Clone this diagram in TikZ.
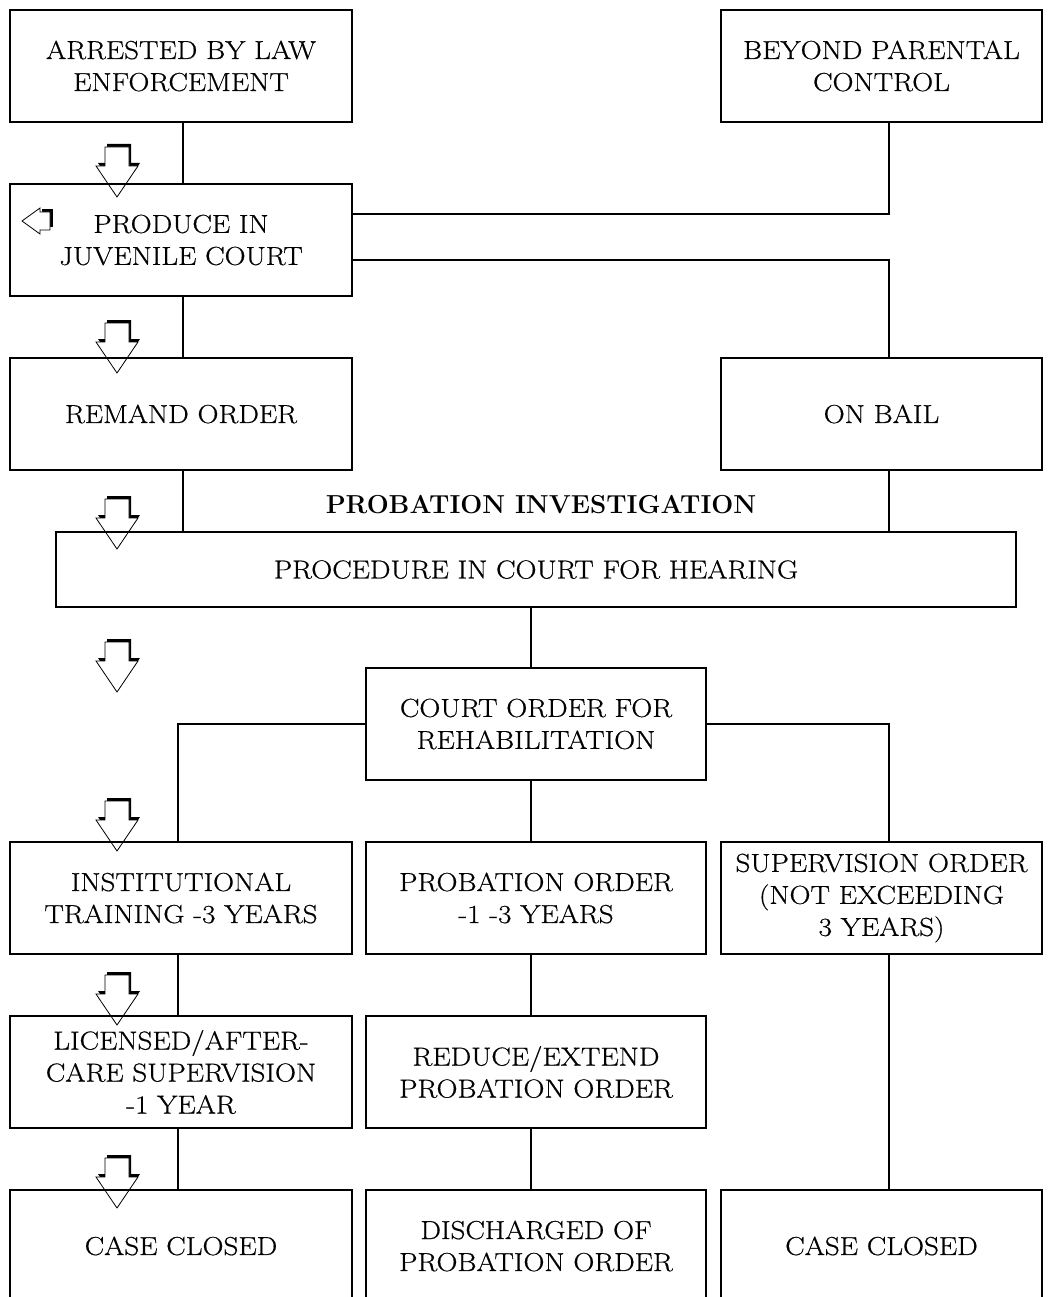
\documentclass[tikz,border=0pt]{standalone}
\usepackage{fontspec}
\setmainfont{Latin Modern Roman}[UprightFeatures={FakeStretch=1.12,FakeBold=0.6}]
\usepackage{tikz}
\usetikzlibrary{positioning}

\tikzset{
  downarr/.pic={
    \fill[black] (-10,53) -- (14,53) -- (14,34) -- (23,34) -- (2,3) -- (-19,34) -- (-10,34) -- cycle;
    \filldraw[fill=white,line width=0.8pt] (-12,50) -- (12,50) -- (12,31) -- (21,31) -- (0,0) -- (-21,31) -- (-12,31) -- cycle;
  },
  leftarr/.pic={
    \fill[black] (20,12) rectangle (31,-6);
    \filldraw[fill=white,line width=0.8pt] (0,0) -- (18,13) -- (18,9) -- (28,9) -- (28,-9) -- (18,-9) -- (18,-13) -- cycle;
  }
}

\begin{document}
\begin{tikzpicture}[x=1pt,y=1pt,node distance=60pt,
  box/.style={draw,line width=2pt,minimum height=112pt,align=center,font=\fontsize{26}{32}\selectfont},
  colL/.style={minimum width=342pt},
  colM/.style={minimum width=340pt},
  colR/.style={minimum width=321pt},
  link/.style={line width=1.3pt}]
\useasboundingbox (0,0) rectangle (1052,-1297);

\foreach \t in {197,373,549,692,851,1025,1208}
  \pic at (117,-\t) {downarr};
\pic at (22,-221) {leftarr};

\node[box,colL] (arrested) at (181,-66) {ARRESTED BY LAW\\ENFORCEMENT};
\node[box,colR] (beyond) at (881.5,-66) {BEYOND PARENTAL\\CONTROL};
\node[box,colL] (produce) [below=of arrested] {PRODUCE IN\\JUVENILE COURT};
\node[box,colL] (remand) [below=of produce] {REMAND ORDER};
\node[box,colR] (bail) at (beyond |- remand) {ON BAIL};
\node[font=\bfseries\fontsize{26}{32}\selectfont] (invest) at (541,-505) {PROBATION INVESTIGATION};
\node[box,minimum width=960pt,minimum height=75pt] (hearing) at (536,-569.5) {PROCEDURE IN COURT FOR HEARING};
\node[box,colM] (court) [below=59pt of hearing] {COURT ORDER FOR\\REHABILITATION};
\node[box,colM] (probation) [below=of court] {PROBATION ORDER\\-1 -3 YEARS};
\node[box,colL] (training) at (arrested |- probation) {INSTITUTIONAL\\TRAINING -3 YEARS};
\node[box,colR] (supervision) at (beyond |- probation) {SUPERVISION ORDER\\(NOT EXCEEDING\\3 YEARS)};
\node[box,colL] (licensed) [below=of training] {LICENSED/AFTER-\\CARE SUPERVISION\\-1 YEAR};
\node[box,colM] (reduce) [below=of probation] {REDUCE/EXTEND\\PROBATION ORDER};
\node[box,colL] (closedL) [below=of licensed] {CASE CLOSED};
\node[box,colM] (discharged) [below=of reduce] {DISCHARGED OF\\PROBATION ORDER};
\node[box,colR] (closedR) at (beyond |- discharged) {CASE CLOSED};

% line positions
\coordinate (xa) at (183,0);
\coordinate (xb) at (178,0);
\coordinate (xm) at (531,0);
\coordinate (xr) at (889,0);

\draw[link] (arrested.south -| xa) -- (produce.north -| xa);
\draw[link] (beyond.south -| xr) |- ([yshift=26pt]produce.east);
\draw[link] ([yshift=-20pt]produce.east) -| (bail.north -| xr);
\draw[link] (produce.south -| xa) -- (remand.north -| xa);
\draw[link] (remand.south -| xa) -- (hearing.north -| xa);
\draw[link] (bail.south -| xr) -- (hearing.north -| xr);
\draw[link] (hearing.south -| xm) -- (court.north -| xm);
\draw[link] (court.west) -| (training.north -| xb);
\draw[link] (court.east) -| (supervision.north -| xr);
\draw[link] (court.south -| xm) -- (probation.north -| xm);
\draw[link] (training.south -| xb) -- (licensed.north -| xb);
\draw[link] (licensed.south -| xb) -- (closedL.north -| xb);
\draw[link] (probation.south -| xm) -- (reduce.north -| xm);
\draw[link] (reduce.south -| xm) -- (discharged.north -| xm);
\draw[link] (supervision.south -| xr) -- (closedR.north -| xr);
\end{tikzpicture}
\end{document}
